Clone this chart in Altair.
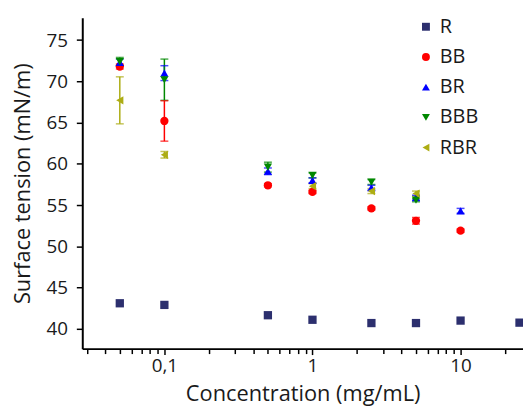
import altair as alt
import pandas as pd

series_names = ["R", "BB", "BR", "BBB", "RBR"]
series_colors = ["#2C2F6E", "#FF0000", "#0000FF", "#008800", "#ADAD14"]
series_shapes = ["square", "circle", "triangle-up", "triangle-down", "triangle-left"]

r_conc = [0.05, 0.1, 0.5, 1, 2.5, 5, 10, 25]
r_tension = [43.1, 42.9, 41.65, 41.1, 40.7, 40.7, 41.0, 40.75]
r_err = [0, 0, 0, 0, 0, 0, 0, 0]

bb_conc = [0.05, 0.1, 0.5, 1, 2.5, 5, 10]
bb_tension = [71.8, 65.2, 57.4, 56.6, 54.6, 53.1, 51.9]
bb_err = [0.3, 2.45, 0.2, 0.2, 0.2, 0.4, 0.2]

br_conc = [0.05, 0.1, 0.5, 1, 2.5, 5, 10]
br_tension = [72.3, 71.0, 59.1, 58.0, 57.1, 55.9, 54.3]
br_err = [0.4, 0.9, 0.4, 0.3, 0.3, 0.3, 0.3]

bbb_conc = [0.05, 0.1, 0.5, 1, 2.5, 5]
bbb_tension = [72.4, 70.2, 59.6, 58.6, 57.8, 55.6]
bbb_err = [0.5, 2.5, 0.6, 0.3, 0.3, 0.2]

rbr_conc = [0.05, 0.1, 1, 2.5, 5]
rbr_tension = [67.7, 61.1, 57.3, 56.7, 56.4]
rbr_err = [2.85, 0.4, 0.3, 0.3, 0.3]

x_major = [0.1, 1, 10]
x_major_labels = ["0,1", "1", "10"]
x_minor = [0.03, 0.04, 0.05, 0.06, 0.07, 0.08, 0.09,
           0.2, 0.3, 0.4, 0.5, 0.6, 0.7, 0.8, 0.9,
           2, 3, 4, 5, 6, 7, 8, 9, 20]
y_major = [40, 45, 50, 55, 60, 65, 70, 75]
y_minor = [42.5, 47.5, 52.5, 57.5, 62.5, 67.5, 72.5, 77.5]

x_domain = [0.0279, 26.4]
y_domain = [37.6, 77.7]

series = [
    ("R", r_conc, r_tension, r_err),
    ("BB", bb_conc, bb_tension, bb_err),
    ("BR", br_conc, br_tension, br_err),
    ("BBB", bbb_conc, bbb_tension, bbb_err),
    ("RBR", rbr_conc, rbr_tension, rbr_err),
]
rows = []
for name, cs, vs, es in series:
    for c, v, e in zip(cs, vs, es):
        rows.append({"series": name, "conc": c, "val": v, "err": e,
                     "lo": v - e, "hi": v + e})
df = pd.DataFrame(rows)
err_df = df[df["err"] > 0]

label_expr = " : ".join(
    f"datum.value == {v} ? '{t}'" for v, t in zip(x_major, x_major_labels)
) + " : ''"
x_major_test = " || ".join(f"datum.value == {v}" for v in x_major)
y_major_test = " || ".join(f"datum.value == {v}" for v in y_major)

font = "Open Sans"

x_scale = alt.Scale(type="log", domain=x_domain, nice=False)
y_scale = alt.Scale(domain=y_domain, nice=False, zero=False)

x_axis = alt.Axis(
    values=sorted(x_major + x_minor),
    labelExpr=label_expr,
    title="Concentration (mg/mL)",
    grid=False,
    labelOverlap=False,
    labelBound=False,
    labelFlush=False,
    tickSize={"condition": {"test": x_major_test, "value": 6}, "value": 5},
    labelPadding=2,
    titlePadding=8,
)
y_axis = alt.Axis(
    values=sorted(y_major + y_minor),
    labelExpr=f"({y_major_test}) ? datum.value : ''",
    title="Surface tension (mN/m)",
    grid=False,
    labelOverlap=False,
    tickSize={"condition": {"test": y_major_test, "value": 6}, "value": 4},
    labelPadding=9,
    titlePadding=12,
)

color_scale = alt.Scale(domain=series_names, range=series_colors)
shape_scale = alt.Scale(domain=series_names, range=series_shapes)
color_enc = alt.Color("series:N", scale=color_scale, title=None)
shape_enc = alt.Shape("series:N", scale=shape_scale, title=None)

base_err = alt.Chart(err_df)
rules = base_err.mark_rule(strokeWidth=1.5).encode(
    x=alt.X("conc:Q", scale=x_scale, axis=x_axis),
    y=alt.Y("lo:Q", scale=y_scale, axis=y_axis),
    y2="hi:Q",
    color=color_enc,
)
caps_lo = base_err.mark_tick(orient="horizontal", size=8, thickness=1.5).encode(
    x=alt.X("conc:Q", scale=x_scale),
    y=alt.Y("lo:Q", scale=y_scale),
    color=color_enc,
)
caps_hi = base_err.mark_tick(orient="horizontal", size=8, thickness=1.5).encode(
    x=alt.X("conc:Q", scale=x_scale),
    y=alt.Y("hi:Q", scale=y_scale),
    color=color_enc,
)
points = alt.Chart(df).mark_point(filled=True, size=70, opacity=1).encode(
    x=alt.X("conc:Q", scale=x_scale, axis=x_axis),
    y=alt.Y("val:Q", scale=y_scale, axis=y_axis),
    color=color_enc,
    shape=shape_enc,
)

chart = alt.layer(rules, caps_lo, caps_hi, points).properties(
    width=445,
    height=334,
    autosize=alt.AutoSizeParams(type="none"),
    padding={"left": 75, "top": 8, "right": 0, "bottom": 58},
).configure_view(stroke=None).configure_axis(
    domainColor="black",
    domainWidth=2,
    tickColor="black",
    tickWidth=1.5,
    labelColor="#1a1a1a",
    labelFont=font,
    labelFontSize=19,
    titleFont=font,
    titleFontSize=22,
    titleFontWeight="normal",
    titleColor="#1a1a1a",
).configure_legend(
    orient="none",
    legendX=337,
    legendY=-1,
    labelFont=font,
    labelFontSize=20,
    labelColor="#1a1a1a",
    symbolSize=64,
    symbolOpacity=1,
    rowPadding=10.5,
    labelOffset=4,
    padding=0,
    symbolStrokeWidth=0,
)

chart.save("out.html", embed_options={"renderer": "svg", "actions": False})
